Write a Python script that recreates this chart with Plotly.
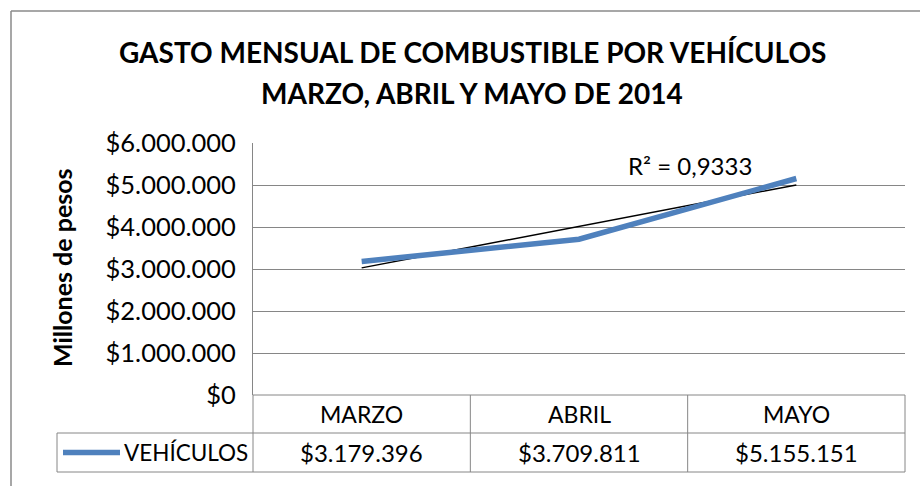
import numpy as np
import plotly.graph_objects as go

categories = ["MARZO", "ABRIL", "MAYO"]
values = [3179396, 3709811, 5155151]
value_labels = ["$3.179.396", "$3.709.811", "$5.155.151"]
series_name = "VEHÍCULOS"
tick_vals = [0, 1000000, 2000000, 3000000, 4000000, 5000000, 6000000]
tick_text = ["$0", "$1.000.000", "$2.000.000", "$3.000.000", "$4.000.000", "$5.000.000", "$6.000.000"]
title_lines = ["GASTO MENSUAL DE COMBUSTIBLE POR VEHÍCULOS", "MARZO, ABRIL Y MAYO DE 2014"]
y_title = "Millones de pesos"

W, H = 920, 486
L, R, T, B = 253, 905, 143, 395  # plot area in pixels
FONT = "Lato"

# linear trendline computed from data
xs = np.arange(1, len(values) + 1)
slope, intercept = np.polyfit(xs, values, 1)
trend = slope * xs + intercept
ss_res = np.sum((np.array(values) - trend) ** 2)
ss_tot = np.sum((np.array(values) - np.mean(values)) ** 2)
r2 = 1 - ss_res / ss_tot
r2_text = "R² = " + f"{r2:.4f}".replace(".", ",")

def px(x):
    return (x - L) / (R - L)

def py(y):
    return (B - y) / (B - T)

fig = go.Figure()
fig.add_trace(go.Scatter(x=categories, y=list(trend), mode="lines",
                         line=dict(color="black", width=1.5), showlegend=False, hoverinfo="skip"))
fig.add_trace(go.Scatter(x=categories, y=values, mode="lines", name=series_name,
                         line=dict(color="#4F81BD", width=5.5), showlegend=False))

fig.update_layout(
    width=W, height=H,
    margin=dict(l=L, r=W - R, t=T, b=H - B, autoexpand=False),
    paper_bgcolor="white", plot_bgcolor="white",
    font=dict(family=FONT, size=18, color="black"),
    xaxis=dict(range=[-0.5, 2.5], showticklabels=False, showgrid=False, zeroline=False,
               showline=False, fixedrange=True),
    yaxis=dict(range=[0, 6000000], tickvals=tick_vals, ticktext=tick_text,
               showgrid=True, gridcolor="#868686", gridwidth=1, zeroline=False,
               showline=True, linecolor="#868686", linewidth=1, ticks="",
               ticklabelstandoff=11, tickfont=dict(family=FONT, size=25.5)),
    showlegend=False,
)

annotations = []
annotations.append(dict(xref="paper", yref="paper", x=px(472), y=py(52), text="<b>" + title_lines[0] + "</b>",
                        showarrow=False, font=dict(family=FONT, size=28), xanchor="center", yanchor="middle"))
annotations.append(dict(xref="paper", yref="paper", x=px(472), y=py(93), text="<b>" + title_lines[1] + "</b>",
                        showarrow=False, font=dict(family=FONT, size=28), xanchor="center", yanchor="middle"))
annotations.append(dict(xref="paper", yref="paper", x=px(62), y=py(268), text="<b>" + y_title + "</b>",
                        textangle=-90, showarrow=False, font=dict(family=FONT, size=25),
                        xanchor="center", yanchor="middle"))
annotations.append(dict(xref="paper", yref="paper", x=px(690), y=py(165), text=r2_text,
                        showarrow=False, font=dict(family=FONT, size=24), xanchor="center", yanchor="middle"))

col_edges = [L + i * (R - L) / 3 for i in range(4)]
row1_top, row1_bot, row2_bot = B, 433, 472
legend_left = 57
for i, cat in enumerate(categories):
    cx = (col_edges[i] + col_edges[i + 1]) / 2
    annotations.append(dict(xref="paper", yref="paper", x=px(cx), y=py((row1_top + row1_bot) / 2), text=cat,
                            showarrow=False, font=dict(family=FONT, size=23), xanchor="center", yanchor="middle"))
    annotations.append(dict(xref="paper", yref="paper", x=px(cx), y=py((row1_bot + row2_bot) / 2),
                            text=value_labels[i], showarrow=False, font=dict(family=FONT, size=24),
                            xanchor="center", yanchor="middle"))
annotations.append(dict(xref="paper", yref="paper", x=px(122), y=py((row1_bot + row2_bot) / 2), text=series_name,
                        showarrow=False, font=dict(family=FONT, size=22.5), xanchor="left", yanchor="middle"))

shapes = []
gc = "#868686"
def line(x0, y0, x1, y1, color=gc, width=1):
    shapes.append(dict(type="line", xref="paper", yref="paper", x0=px(x0), y0=py(y0), x1=px(x1), y1=py(y1),
                       line=dict(color=color, width=width)))

# table
line(L, row1_top, R, row1_top)
line(legend_left, row1_bot, R, row1_bot)
line(legend_left, row2_bot, R, row2_bot)
line(legend_left, row1_bot, legend_left, row2_bot)
for e in col_edges:
    line(e, row1_top, e, row2_bot)
# legend key
line(63, (row1_bot + row2_bot) / 2, 120, (row1_bot + row2_bot) / 2, color="#4F81BD", width=5.5)
# outer chart border
line(11, 11, 11, 486, color="#8a8a8a", width=1.5)
line(11, 11, 920, 11, color="#8a8a8a", width=1.5)

fig.update_layout(annotations=annotations, shapes=shapes)
fig.write_html("out.html", config={"displayModeBar": False},
               post_script="document.body.style.margin='0';document.body.style.overflow='hidden';")
